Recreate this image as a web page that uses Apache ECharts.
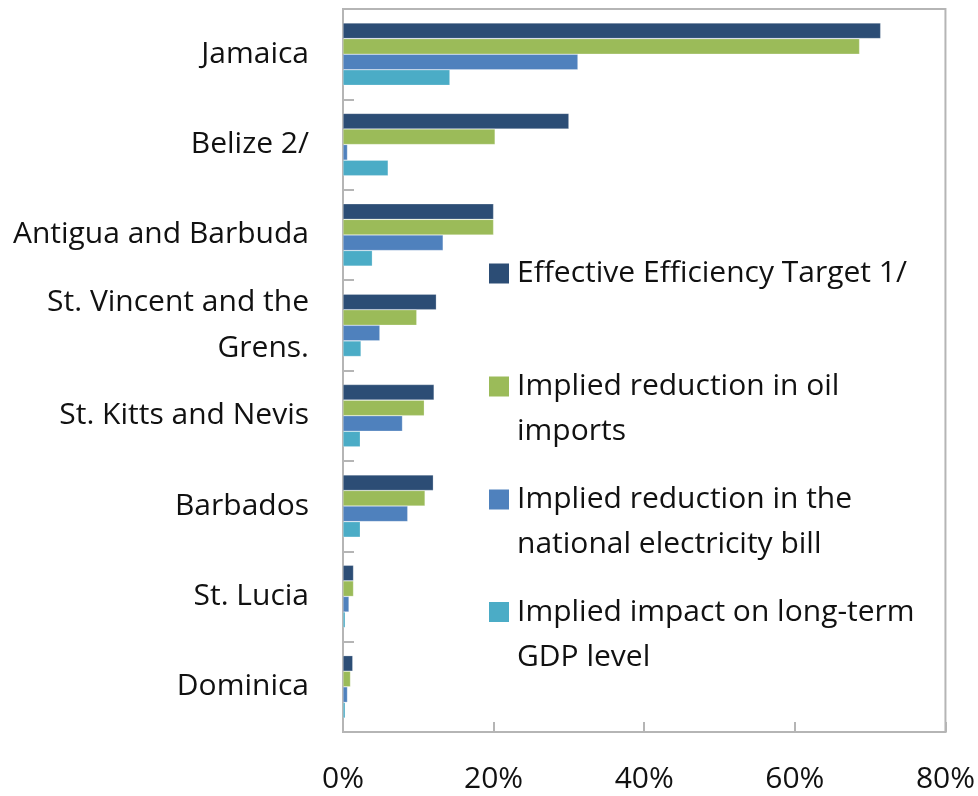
<!DOCTYPE html>
<html>
<head>
<meta charset="utf-8">
<script src="https://cdn.jsdelivr.net/npm/echarts@6/dist/echarts.min.js"></script>
<style>
  html, body { margin: 0; padding: 0; background: #fff; }
  #chart { width: 978px; height: 796px; }
</style>
</head>
<body>
<div id="chart"></div>
<script>
// Countries, listed top to bottom
const countries = [
  'Jamaica',
  'Belize 2/',
  'Antigua and Barbuda',
  'St. Vincent and the\nGrens.',
  'St. Kitts and Nevis',
  'Barbados',
  'St. Lucia',
  'Dominica'
];

// Percentages per country
const efficiencyTarget = [71.4, 30.0, 20.0, 12.4, 12.1, 12.0, 1.4, 1.3];
const oilImports       = [68.6, 20.2, 20.0, 9.8, 10.8, 10.9, 1.4, 1.0];
const electricityBill  = [31.2, 0.6, 13.3, 4.9, 7.9, 8.6, 0.8, 0.6];
const gdpImpact        = [14.2, 6.0, 3.9, 2.4, 2.3, 2.3, 0.3, 0.3];

const seriesNames = [
  'Effective Efficiency Target 1/',
  'Implied reduction in oil imports',
  'Implied reduction in the national electricity bill',
  'Implied impact on long-term GDP level'
];
// Legend text, wrapped onto lines
const legendLines = [
  ['Effective Efficiency Target 1/'],
  ['Implied reduction in oil', 'imports'],
  ['Implied reduction in the', 'national electricity bill'],
  ['Implied impact on long-term', 'GDP level']
];
const xTicks = [0, 20, 40, 60, 80];

const colors = ['#2C4D75', '#9BBB59', '#4F81BD', '#4BACC6'];
const FONT = 'Open Sans';
const FS = 30;
const LH = 45;

const chart = echarts.init(document.getElementById('chart'), null, { renderer: 'canvas' });

const values = [efficiencyTarget, oilImports, electricityBill, gdpImpact];
const legendIconCenters = [273.5, 386.5, 499.5, 612];

// One legend per entry; blank lines are added above the text so that the
// first line stays level with the square marker.
const legends = seriesNames.map((name, i) => {
  const lines = legendLines[i];
  const extra = lines.length - 1;
  const padded = new Array(extra).fill(' ').concat(lines);
  const blockH = padded.length * LH;
  return {
    data: [name],
    orient: 'vertical',
    left: 489,
    top: legendIconCenters[i] - blockH / 2,
    padding: 0,
    itemWidth: 20,
    itemHeight: 20,
    icon: 'rect',
    selectedMode: false,
    itemStyle: { borderWidth: 0 },
    formatter: () => padded.join('\n'),
    textStyle: {
      fontFamily: FONT,
      fontSize: FS,
      color: '#111',
      lineHeight: LH,
      padding: [0, 0, 0, 3]
    }
  };
});

const option = {
  animation: false,
  backgroundColor: '#fff',
  color: colors,
  legend: legends,
  grid: {
    left: 343, right: 31, top: 9, bottom: 64,
    show: true,
    borderColor: '#b5b5b5',
    borderWidth: 2
  },
  xAxis: {
    type: 'value',
    min: xTicks[0],
    max: xTicks[xTicks.length - 1],
    interval: 20,
    axisLine: { show: true, lineStyle: { color: '#b5b5b5', width: 2 } },
    axisTick: { show: true, inside: true, length: 10, lineStyle: { color: '#b5b5b5', width: 2 } },
    splitLine: { show: false },
    axisLabel: {
      formatter: '{value}%',
      fontFamily: FONT,
      fontSize: FS,
      color: '#111',
      margin: 32
    }
  },
  yAxis: {
    type: 'category',
    inverse: true,
    data: countries,
    axisLine: { show: true, lineStyle: { color: '#b5b5b5', width: 2 } },
    axisTick: { show: true, inside: true, length: 11, lineStyle: { color: '#b5b5b5', width: 2 } },
    axisLabel: {
      fontFamily: FONT,
      fontSize: FS,
      color: '#111',
      margin: 34,
      lineHeight: 46
    }
  },
  series: seriesNames.map((name, i) => ({
    name,
    type: 'bar',
    data: values[i],
    barGap: '0%',
    barCategoryGap: '31%',
    itemStyle: {
      color: colors[i],
      borderColor: 'rgba(255,255,255,0.4)',
      borderWidth: 0.6
    }
  }))
};

chart.setOption(option);
</script>
</body>
</html>
